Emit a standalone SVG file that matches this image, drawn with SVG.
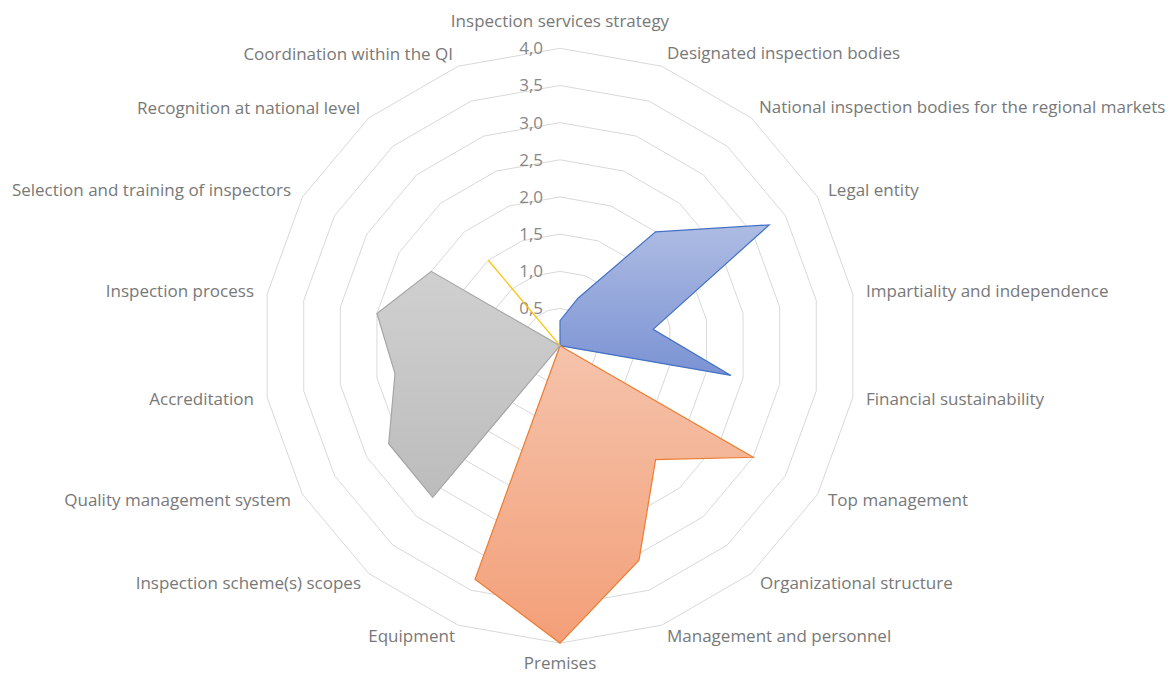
<svg xmlns="http://www.w3.org/2000/svg" width="1174" height="674" viewBox="0 0 1174 674">
<style>
.ring{fill:none;stroke:#d9d9d9;stroke-width:1}
.lbl{font-family:"Open Sans","Liberation Sans",sans-serif;font-size:17px;fill:#787878}
.tick{font-family:"Open Sans","Liberation Sans",sans-serif;font-size:17px;fill:#878787;text-anchor:end}
.s{stroke-width:1.2;stroke-linejoin:miter}
</style>
<defs>
<linearGradient id="gBlue" x1="0" y1="0" x2="0" y2="1"><stop offset="0" stop-color="#aebce3"/><stop offset="1" stop-color="#7b93d4"/></linearGradient>
<linearGradient id="gOrange" x1="0" y1="0" x2="0" y2="1"><stop offset="0" stop-color="#f5c3ab"/><stop offset="1" stop-color="#f39f78"/></linearGradient>
<linearGradient id="gGray" x1="0" y1="0" x2="0" y2="1"><stop offset="0" stop-color="#d0d0d0"/><stop offset="1" stop-color="#bcbcbc"/></linearGradient>
</defs>
<rect width="1174" height="674" fill="#ffffff"/>
<g id="grid" transform="translate(560 345.7)">
<polygon class="ring" points="0,-37.18 12.71,-34.93 23.9,-28.48 32.19,-18.59 36.61,-6.46 36.61,6.46 32.19,18.59 23.9,28.48 12.71,34.93 0,37.18 -12.71,34.93 -23.9,28.48 -32.19,18.59 -36.61,6.46 -36.61,-6.46 -32.19,-18.59 -23.9,-28.48 -12.71,-34.93"/>
<polygon class="ring" points="0,-74.35 25.43,-69.87 47.79,-56.96 64.39,-37.18 73.22,-12.91 73.22,12.91 64.39,37.18 47.79,56.96 25.43,69.87 0,74.35 -25.43,69.87 -47.79,56.96 -64.39,37.18 -73.22,12.91 -73.22,-12.91 -64.39,-37.18 -47.79,-56.96 -25.43,-69.87"/>
<polygon class="ring" points="0,-111.53 38.14,-104.8 71.69,-85.44 96.58,-55.76 109.83,-19.37 109.83,19.37 96.58,55.76 71.69,85.44 38.14,104.8 0,111.53 -38.14,104.8 -71.69,85.44 -96.58,55.76 -109.83,19.37 -109.83,-19.37 -96.58,-55.76 -71.69,-85.44 -38.14,-104.8"/>
<polygon class="ring" points="0,-148.7 50.86,-139.73 95.58,-113.91 128.78,-74.35 146.44,-25.82 146.44,25.82 128.78,74.35 95.58,113.91 50.86,139.73 0,148.7 -50.86,139.73 -95.58,113.91 -128.78,74.35 -146.44,25.82 -146.44,-25.82 -128.78,-74.35 -95.58,-113.91 -50.86,-139.73"/>
<polygon class="ring" points="0,-185.88 63.57,-174.67 119.48,-142.39 160.97,-92.94 183.05,-32.28 183.05,32.28 160.97,92.94 119.48,142.39 63.57,174.67 0,185.88 -63.57,174.67 -119.48,142.39 -160.97,92.94 -183.05,32.28 -183.05,-32.28 -160.97,-92.94 -119.48,-142.39 -63.57,-174.67"/>
<polygon class="ring" points="0,-223.05 76.29,-209.6 143.37,-170.87 193.17,-111.53 219.66,-38.73 219.66,38.73 193.17,111.53 143.37,170.87 76.29,209.6 0,223.05 -76.29,209.6 -143.37,170.87 -193.17,111.53 -219.66,38.73 -219.66,-38.73 -193.17,-111.53 -143.37,-170.87 -76.29,-209.6"/>
<polygon class="ring" points="0,-260.23 89,-244.53 167.27,-199.35 225.36,-130.11 256.27,-45.19 256.27,45.19 225.36,130.11 167.27,199.35 89,244.53 0,260.23 -89,244.53 -167.27,199.35 -225.36,130.11 -256.27,45.19 -256.27,-45.19 -225.36,-130.11 -167.27,-199.35 -89,-244.53"/>
<polygon class="ring" points="0,-297.4 101.72,-279.46 191.17,-227.82 257.56,-148.7 292.88,-51.64 292.88,51.64 257.56,148.7 191.17,227.82 101.72,279.46 0,297.4 -101.72,279.46 -191.17,227.82 -257.56,148.7 -292.88,51.64 -292.88,-51.64 -257.56,-148.7 -191.17,-227.82 -101.72,-279.46"/>
</g>
<g id="ticks">
<text class="tick" x="543" y="351.5">0,0</text>
<text class="tick" x="543" y="314.3">0,5</text>
<text class="tick" x="543" y="277.2">1,0</text>
<text class="tick" x="543" y="240">1,5</text>
<text class="tick" x="543" y="202.8">2,0</text>
<text class="tick" x="543" y="165.7">2,5</text>
<text class="tick" x="543" y="128.5">3,0</text>
<text class="tick" x="543" y="91.3">3,5</text>
<text class="tick" x="543" y="54.1">4,0</text>
</g>
<g id="series" transform="translate(560 345.7)">
<polygon id="series-blue" class="s" fill="url(#gBlue)" stroke="#4472c4" points="0,0 0,-25 18,-47.5 95.58,-113.91 209.2,-120.8 93.1,-16.4 171,29.7"/>
<polygon id="series-orange" class="s" fill="url(#gOrange)" stroke="#ed7d31" points="0,0 193.17,111.53 95.58,113.91 79,214.5 0,297.4 -85,233.6"/>
<polygon id="series-gray" class="s" fill="url(#gGray)" stroke="#a5a5a5" points="0,0 -127.3,151.6 -171.3,98 -165,28 -183.05,-32.28 -128.78,-74.35"/>
<polyline id="series-yellow" fill="none" stroke="#ffc000" stroke-width="1.2" points="0,0 -71.69,-85.44"/>
</g>
<g id="labels" class="lbl">
<text x="560" y="27" text-anchor="middle">Inspection services strategy</text>
<text x="667" y="59">Designated inspection bodies</text>
<text x="759" y="113">National inspection bodies for the regional markets</text>
<text x="828" y="196">Legal entity</text>
<text x="866" y="297">Impartiality and independence</text>
<text x="866" y="405">Financial sustainability</text>
<text x="828" y="506">Top management</text>
<text x="760" y="589">Organizational structure</text>
<text x="667" y="642">Management and personnel</text>
<text x="560" y="669" text-anchor="middle">Premises</text>
<text x="455" y="642" text-anchor="end">Equipment</text>
<text x="361" y="589" text-anchor="end">Inspection scheme(s) scopes</text>
<text x="291" y="506" text-anchor="end">Quality management system</text>
<text x="254" y="405" text-anchor="end">Accreditation</text>
<text x="254" y="297" text-anchor="end">Inspection process</text>
<text x="291" y="196" text-anchor="end">Selection and training of inspectors</text>
<text x="360" y="114" text-anchor="end">Recognition at national level</text>
<text x="453" y="60" text-anchor="end">Coordination within the QI</text>
</g>
</svg>
